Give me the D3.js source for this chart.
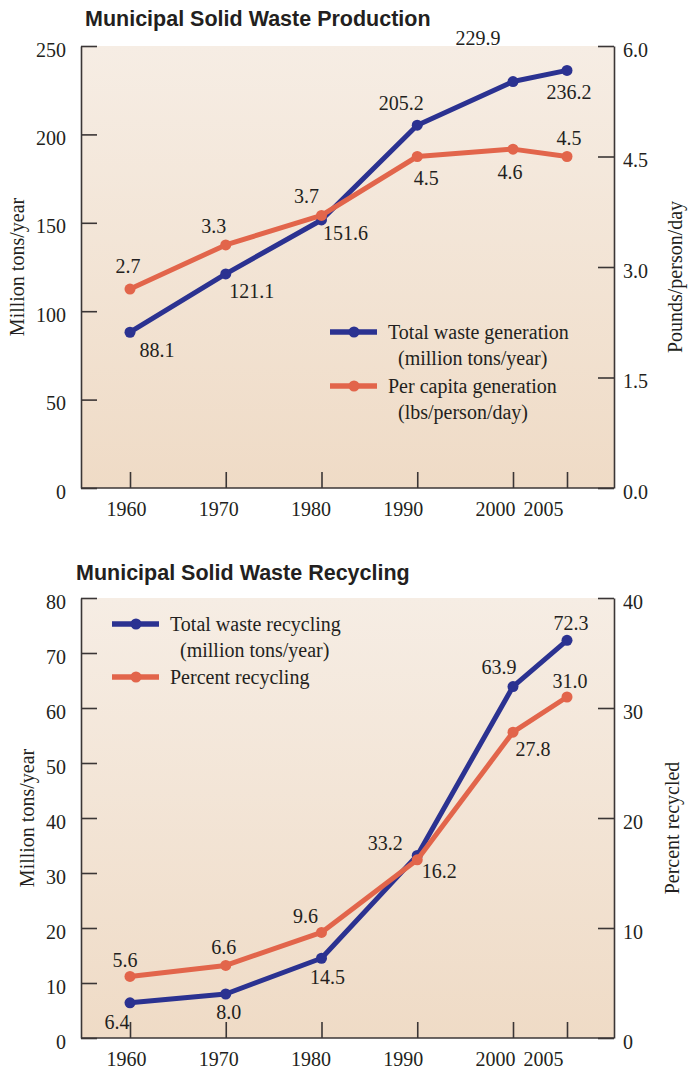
<!DOCTYPE html>
<html>
<head>
<meta charset="utf-8">
<script src="https://cdn.jsdelivr.net/npm/d3@7"></script>
<style>
  body { margin: 0; background: #fff; }
  svg text { fill: #231f20; }
</style>
</head>
<body>
<svg id="chart" width="688" height="1071"></svg>
<script>
const years = [1960, 1970, 1980, 1990, 2000, 2005];

// Municipal solid waste production
const wasteTons = [88.1, 121.1, 151.6, 205.2, 229.9, 236.2];
const wastePerCapita = [2.7, 3.3, 3.7, 4.5, 4.6, 4.5];
const productionLeftTicks = [0, 50, 100, 150, 200, 250];
const productionRightTicks = [0, 1.5, 3.0, 4.5, 6.0];

// Municipal solid waste recycling
const recycledTons = [6.4, 8.0, 14.5, 33.2, 63.9, 72.3];
const recycledPercent = [5.6, 6.6, 9.6, 16.2, 27.8, 31.0];
const recyclingLeftTicks = [0, 10, 20, 30, 40, 50, 60, 70, 80];
const recyclingRightTicks = [0, 10, 20, 30, 40];

// label placement next to each point (dx, dy from the point)
const wasteTonsLabelPos = [[27, 18], [26, 17], [24, 13], [-16, -22], [-35, -44], [2, 22]];
const wastePerCapitaLabelPos = [[-2, -23], [-12, -19], [-15, -19], [9, 21], [-3, 23], [2, -19]];
const recycledTonsLabelPos = [[-13, 19], [3, 18], [6, 19], [-32, -12], [-14, -20], [4, -17]];
const recycledPercentLabelPos = [[-5, -16], [-2, -18], [-16, -16], [22, 11], [20, 17], [3, -16]];

const blue = "#2b3291";
const orange = "#e2654b";
const ink = "#231f20";
const axisColor = "#3b3636";
const serif = "'Liberation Serif', 'Times New Roman', serif";
const sans = "'Liberation Sans', Arial, sans-serif";

const svg = d3.select("#chart");

const grad = svg.append("defs").append("linearGradient")
  .attr("id", "bg").attr("x1", 0).attr("y1", 0).attr("x2", 0).attr("y2", 1);
grad.append("stop").attr("offset", "0%").attr("stop-color", "#f6ede4");
grad.append("stop").attr("offset", "100%").attr("stop-color", "#efdbc6");

const frameLeft = 81;
const frameRight = 614;

// the 2005 tick sits a bit further out than a strict linear scale would put it
const x = d3.scaleLinear().domain([1960, 2000, 2005]).range([130, 513, 567]);
const xLabel = d3.scaleLinear().domain([1960, 2000, 2005]).range([126, 495, 543]);

function drawPanel(p) {
  const g = svg.append("g");
  const yLeft = d3.scaleLinear().domain([0, p.leftTicks[p.leftTicks.length - 1]]).range([p.bottom, p.top]);
  const yRight = d3.scaleLinear().domain([0, p.rightTicks[p.rightTicks.length - 1]]).range([p.bottom, p.top]);

  g.append("rect")
    .attr("x", frameLeft).attr("y", p.top)
    .attr("width", frameRight - frameLeft).attr("height", p.bottom - p.top)
    .attr("fill", "url(#bg)");

  g.append("text")
    .attr("x", p.titleX).attr("y", p.titleY)
    .attr("font-family", sans).attr("font-weight", "bold").attr("font-size", 21.5)
    .text(p.title);

  const left = g.append("g")
    .attr("transform", "translate(" + frameLeft + ",0)")
    .call(d3.axisLeft(yLeft).tickValues(p.leftTicks).tickSize(-16).tickSizeOuter(0).tickPadding(15).tickFormat(p.leftFormat));
  const right = g.append("g")
    .attr("transform", "translate(" + frameRight + ",0)")
    .call(d3.axisRight(yRight).tickValues(p.rightTicks).tickSize(-16).tickSizeOuter(0).tickPadding(9).tickFormat(p.rightFormat));
  const bottomTicks = g.append("g")
    .attr("transform", "translate(0," + p.bottom + ")")
    .call(d3.axisBottom(x).tickValues(years).tickSize(-16).tickSizeOuter(0).tickFormat(""));
  bottomTicks.select(".domain").remove();
  const bottomLabels = g.append("g")
    .attr("transform", "translate(0," + p.bottom + ")")
    .call(d3.axisBottom(xLabel).tickValues(years).tickSize(0).tickPadding(14).tickFormat(d3.format("d")));
  bottomLabels.select(".domain").remove();

  g.append("line")
    .attr("x1", frameLeft).attr("x2", frameRight)
    .attr("y1", p.bottom).attr("y2", p.bottom)
    .attr("stroke", axisColor).attr("stroke-width", 1.6);

  [left, right, bottomTicks, bottomLabels].forEach((a) => {
    a.attr("font-family", serif).attr("font-size", 20).attr("color", axisColor);
    a.selectAll("line, path").attr("stroke-width", 1.6);
    a.selectAll("text").attr("fill", ink);
  });
  left.selectAll("text").attr("dy", "0.5em");
  right.selectAll("text").attr("dy", "0.5em");

  g.append("text")
    .attr("transform", "translate(" + p.leftTitleX + "," + (p.top + p.bottom) / 2 + ") rotate(-90)")
    .attr("text-anchor", "middle").attr("dy", "0.35em")
    .attr("font-family", serif).attr("font-size", 20)
    .text(p.leftTitle);
  g.append("text")
    .attr("transform", "translate(" + p.rightTitleX + "," + ((p.top + p.bottom) / 2 + p.rightTitleShift) + ") rotate(-90)")
    .attr("text-anchor", "middle").attr("dy", "0.35em")
    .attr("font-family", serif).attr("font-size", 20)
    .text(p.rightTitle);

  p.series.forEach((s) => {
    const y = s.axis === "left" ? yLeft : yRight;
    const pts = years.map((yr, i) => [x(yr), y(s.values[i])]);
    g.append("path")
      .attr("d", d3.line()(pts))
      .attr("fill", "none").attr("stroke", s.color)
      .attr("stroke-width", 5).attr("stroke-linejoin", "round");
    g.selectAll(null).data(pts).enter().append("circle")
      .attr("cx", (d) => d[0]).attr("cy", (d) => d[1]).attr("r", 5.5)
      .attr("fill", s.color);
    g.selectAll(null).data(s.values).enter().append("text")
      .attr("x", (d, i) => pts[i][0] + s.labelPos[i][0])
      .attr("y", (d, i) => pts[i][1] + s.labelPos[i][1])
      .attr("dy", "0.35em").attr("text-anchor", "middle")
      .attr("font-family", serif).attr("font-size", 20)
      .text((d) => d3.format(".1f")(d));
  });

  // legend
  p.legend.forEach((item) => {
    const lg = g.append("g").attr("transform", "translate(" + item.x + "," + item.y + ")");
    lg.append("line").attr("x1", 0).attr("x2", 47).attr("y1", 0).attr("y2", 0)
      .attr("stroke", item.color).attr("stroke-width", 5.5);
    lg.append("circle").attr("cx", 24).attr("cy", 0).attr("r", 5.5).attr("fill", item.color);
    item.lines.forEach((t, i) => {
      lg.append("text")
        .attr("x", i === 0 ? 58 : 68).attr("y", i * 26)
        .attr("dy", "0.35em")
        .attr("font-family", serif).attr("font-size", 20)
        .text(t);
    });
  });
}

drawPanel({
  top: 46, bottom: 488,
  title: "Municipal Solid Waste Production", titleX: 85, titleY: 26,
  leftTicks: productionLeftTicks, rightTicks: productionRightTicks,
  leftFormat: d3.format("d"), rightFormat: d3.format(".1f"),
  leftTitle: "Million tons/year", leftTitleX: 17,
  rightTitle: "Pounds/person/day", rightTitleX: 675, rightTitleShift: 10,
  series: [
    { values: wasteTons, axis: "left", color: blue, labelPos: wasteTonsLabelPos },
    { values: wastePerCapita, axis: "right", color: orange, labelPos: wastePerCapitaLabelPos }
  ],
  legend: [
    { x: 330, y: 332, color: blue, lines: ["Total waste generation", "(million tons/year)"] },
    { x: 330, y: 386, color: orange, lines: ["Per capita generation", "(lbs/person/day)"] }
  ]
});

drawPanel({
  top: 598, bottom: 1038,
  title: "Municipal Solid Waste Recycling", titleX: 76, titleY: 580,
  leftTicks: recyclingLeftTicks, rightTicks: recyclingRightTicks,
  leftFormat: d3.format("d"), rightFormat: d3.format("d"),
  leftTitle: "Million tons/year", leftTitleX: 27,
  rightTitle: "Percent recycled", rightTitleX: 672, rightTitleShift: 10,
  series: [
    { values: recycledTons, axis: "left", color: blue, labelPos: recycledTonsLabelPos },
    { values: recycledPercent, axis: "right", color: orange, labelPos: recycledPercentLabelPos }
  ],
  legend: [
    { x: 112, y: 624, color: blue, lines: ["Total waste recycling", "(million tons/year)"] },
    { x: 112, y: 677, color: orange, lines: ["Percent recycling"] }
  ]
});
</script>
</body>
</html>
